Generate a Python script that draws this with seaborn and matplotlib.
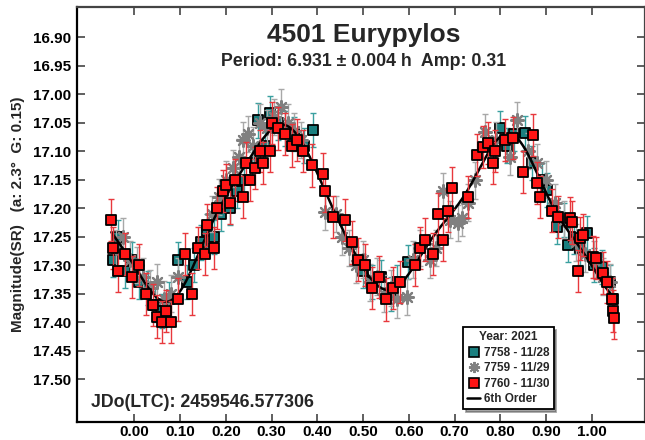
import numpy as np
import pandas as pd
import matplotlib
matplotlib.use("Agg")
import matplotlib.pyplot as plt
import seaborn as sns
from matplotlib.lines import Line2D
from matplotlib.ticker import FormatStrFormatter

teal_phase = [-0.046, -0.035, -0.02, -0.005, 0.01, 0.03, 0.045, 0.06, 0.075, 0.096,
              0.115, 0.13, 0.145, 0.16, 0.175, 0.19, 0.21, 0.225, 0.24, 0.258,
              0.271, 0.285, 0.297, 0.315, 0.33, 0.35, 0.37, 0.391, 0.5, 0.52,
              0.54, 0.56, 0.575, 0.598, 0.8, 0.815, 0.83, 0.854, 0.87, 0.89,
              0.902, 0.924, 0.94, 0.948, 0.96, 0.975, 0.989, 1.005, 1.021, 1.039, 1.046]
teal_mag = [17.29, 17.25, 17.31, 17.29, 17.33, 17.34, 17.37, 17.38, 17.36, 17.29,
            17.33, 17.30, 17.26, 17.24, 17.25, 17.21, 17.20, 17.17, 17.15, 17.12,
            17.046, 17.09, 17.033, 17.05, 17.06, 17.07, 17.09, 17.063, 17.31, 17.33,
            17.32, 17.35, 17.33, 17.295, 17.06, 17.09, 17.07, 17.068, 17.12, 17.15,
            17.168, 17.233, 17.22, 17.265, 17.25, 17.27, 17.244, 17.30, 17.303, 17.33, 17.36]

grey_phase = [-0.04, -0.025, -0.01, 0.005, 0.02, 0.035, 0.05, 0.065, 0.08, 0.095,
              0.17, 0.185, 0.2, 0.215, 0.23, 0.238, 0.248, 0.26, 0.275, 0.29,
              0.305, 0.32, 0.335, 0.35, 0.365, 0.417, 0.44, 0.455, 0.47, 0.485,
              0.5, 0.515, 0.53, 0.545, 0.56, 0.575, 0.596, 0.61, 0.625, 0.646,
              0.66, 0.675, 0.69, 0.708, 0.716, 0.73, 0.745, 0.766, 0.79, 0.821,
              0.836, 0.86, 0.88, 0.9, 0.92, 0.94, 0.965, 0.985, 1.005, 1.025, 1.04]
grey_mag = [17.27, 17.25, 17.29, 17.30, 17.32, 17.34, 17.33, 17.36, 17.35, 17.32,
            17.21, 17.18, 17.15, 17.13, 17.11, 17.081, 17.07, 17.09, 17.05, 17.06,
            17.04, 17.023, 17.05, 17.065, 17.08, 17.207, 17.21, 17.25, 17.27, 17.30,
            17.29, 17.33, 17.32, 17.35, 17.34, 17.36, 17.356, 17.29, 17.27, 17.29,
            17.27, 17.17, 17.22, 17.226, 17.217, 17.19, 17.151, 17.067, 17.08, 17.11,
            17.046, 17.10, 17.12, 17.15, 17.19, 17.22, 17.26, 17.28, 17.29, 17.32, 17.33]

red_phase = [-0.05, -0.047, -0.035, -0.02, -0.005, 0.01, 0.025, 0.04, 0.05, 0.06,
             0.07, 0.08, 0.095, 0.11, 0.126, 0.14, 0.155, 0.16, 0.175, 0.18,
             0.195, 0.2, 0.21, 0.22, 0.238, 0.245, 0.253, 0.264, 0.275, 0.282,
             0.297, 0.3, 0.315, 0.33, 0.345, 0.355, 0.369, 0.389, 0.413, 0.417,
             0.435, 0.46, 0.475, 0.49, 0.505, 0.52, 0.535, 0.55, 0.565, 0.58,
             0.614, 0.624, 0.635, 0.653, 0.664, 0.675, 0.686, 0.694, 0.73, 0.749,
             0.762, 0.773, 0.784, 0.788, 0.81, 0.828, 0.849, 0.871, 0.88, 0.886,
             0.913, 0.926, 0.952, 0.956, 0.969, 0.974, 0.98, 1.002, 1.01, 1.024,
             1.033, 1.044, 1.046, 1.048]
red_mag = [17.22, 17.27, 17.31, 17.28, 17.32, 17.30, 17.35, 17.37, 17.39, 17.40,
           17.38, 17.40, 17.36, 17.28, 17.35, 17.27, 17.28, 17.23, 17.27, 17.20,
           17.17, 17.16, 17.19, 17.15, 17.18, 17.12, 17.15, 17.13, 17.10, 17.12,
           17.10, 17.05, 17.06, 17.07, 17.09, 17.08, 17.10, 17.125, 17.14, 17.17,
           17.215, 17.22, 17.26, 17.29, 17.30, 17.34, 17.32, 17.36, 17.34, 17.33,
           17.30, 17.27, 17.255, 17.28, 17.21, 17.255, 17.205, 17.165, 17.18, 17.107,
           17.093, 17.086, 17.12, 17.10, 17.08, 17.077, 17.137, 17.072, 17.156, 17.18,
           17.204, 17.216, 17.218, 17.225, 17.31, 17.253, 17.247, 17.286, 17.288, 17.314,
           17.33, 17.36, 17.38, 17.393]

teal_err = 0.030
grey_err = 0.032
red_err = 0.037

x_ticks = [0.0, 0.1, 0.2, 0.3, 0.4, 0.5, 0.6, 0.7, 0.8, 0.9, 1.0]
y_ticks = [16.90, 16.95, 17.00, 17.05, 17.10, 17.15, 17.20, 17.25, 17.30, 17.35, 17.40, 17.45, 17.50]
legend_labels = ["7758 - 11/28", "7759 - 11/29", "7760 - 11/30", "6th Order"]

# 6th order Fourier fit to all sessions
all_ph = np.mod(np.array(teal_phase + grey_phase + red_phase), 1.0)
all_mag = np.array(teal_mag + grey_mag + red_mag)


def design(ph, order=6):
    cols = [np.ones_like(ph)]
    for k in range(1, order + 1):
        cols.append(np.cos(2 * np.pi * k * ph))
        cols.append(np.sin(2 * np.pi * k * ph))
    return np.column_stack(cols)


coef, *_ = np.linalg.lstsq(design(all_ph), all_mag, rcond=None)
fit_ph = np.linspace(-0.05, 1.05, 500)
fit_df = pd.DataFrame({"phase": fit_ph, "mag": design(fit_ph) @ coef})

sns.set_theme(style="ticks")
plt.rcParams['font.family'] = ['Liberation Sans', 'DejaVu Sans']
plt.rcParams['font.weight'] = 'bold'

fig = plt.figure(figsize=(6.45, 4.40), dpi=100)
ax = fig.add_axes([77 / 645, 18 / 440, 568 / 645, 415 / 440])

teal_c, teal_e = "#1a7f7f", "#3aa0a0"
grey_c, grey_e = "#808080", "#a8a8a8"
red_c, red_e = "#ff1515", "#e8383d"

ax.errorbar(teal_phase, teal_mag, yerr=teal_err, fmt="none", ecolor=teal_e,
            elinewidth=1, capsize=2.5, capthick=1, zorder=2)
sns.scatterplot(x=teal_phase, y=teal_mag, ax=ax, marker="s", s=45, color=teal_c,
                edgecolor="black", linewidth=1.3, zorder=3)

ax.errorbar(grey_phase, grey_mag, yerr=grey_err, fmt="none", ecolor=grey_e,
            elinewidth=1, capsize=2.5, capthick=1, zorder=4)
sns.scatterplot(x=grey_phase, y=grey_mag, ax=ax, marker=(8, 2, 0), s=85, color=grey_c,
                linewidth=1.6, zorder=5)

sns.lineplot(data=fit_df, x="phase", y="mag", ax=ax, color="black", linewidth=1.8,
             sort=False, zorder=6)

ax.errorbar(red_phase, red_mag, yerr=red_err, fmt="none", ecolor=red_e,
            elinewidth=1, capsize=2.5, capthick=1, zorder=7)
sns.scatterplot(x=red_phase, y=red_mag, ax=ax, marker="s", s=45, color=red_c,
                edgecolor="black", linewidth=1.3, zorder=8)

ax.set_xlim(-0.125, 1.116)
ax.set_ylim(17.575, 16.847)
ax.set_xticks(x_ticks)
ax.set_yticks(y_ticks)
ax.xaxis.set_major_formatter(FormatStrFormatter("%.2f"))
ax.yaxis.set_major_formatter(FormatStrFormatter("%.2f"))
ax.tick_params(direction="in", length=6, width=1.2, color="#444444",
               top=True, right=True, labelsize=11, labelcolor="black")
ax.tick_params(axis="x", pad=2.5)
ax.tick_params(axis="y", pad=4)
ax.set_xlabel("")
ax.set_ylabel("Magnitude(SR)   (a: 2.3°  G: 0.15)", fontsize=11, fontweight="bold", labelpad=6)

for side in ["left", "bottom"]:
    ax.spines[side].set_color("black")
    ax.spines[side].set_linewidth(1.6)
for side in ["top", "right"]:
    ax.spines[side].set_visible(True)
    ax.spines[side].set_color("#444444")
    ax.spines[side].set_linewidth(1.6)

ax.text(0.505, 0.9325, "4501 Eurypylos", transform=ax.transAxes, ha="center", va="center",
        fontsize=19, fontweight="bold")
ax.text(0.505, 0.8675, "Period: 6.931 ± 0.004 h  Amp: 0.31", transform=ax.transAxes,
        ha="center", va="center", fontsize=12.8, fontweight="bold")
ax.text(0.0246, 0.048, "JDo(LTC): 2459546.577306", transform=ax.transAxes, ha="left",
        va="center", fontsize=12.8, fontweight="bold")

handles = [
    Line2D([], [], linestyle="none", marker="s", markersize=7, markerfacecolor=teal_c,
           markeredgecolor="black", markeredgewidth=1.2),
    Line2D([], [], linestyle="none", marker=(8, 2, 0), markersize=8, color=grey_c,
           markeredgewidth=1.4),
    Line2D([], [], linestyle="none", marker="s", markersize=7, markerfacecolor=red_c,
           markeredgecolor="black", markeredgewidth=1.2),
    Line2D([], [], color="black", linewidth=1.8),
]
leg = ax.legend(handles, legend_labels, title="Year: 2021", loc="upper left",
                bbox_to_anchor=(0.68, 0.229), frameon=True, fancybox=False, shadow=True,
                prop={"size": 8.5, "weight": "bold"}, handlelength=1.1, handletextpad=0.3,
                borderpad=0.35, labelspacing=0.3, borderaxespad=0)
leg.get_title().set_fontsize(8.5)
leg.get_title().set_fontweight("bold")
leg.get_frame().set_edgecolor("black")
leg.get_frame().set_linewidth(1.3)
leg.set_zorder(20)

fig.savefig("out.png", dpi=100)
